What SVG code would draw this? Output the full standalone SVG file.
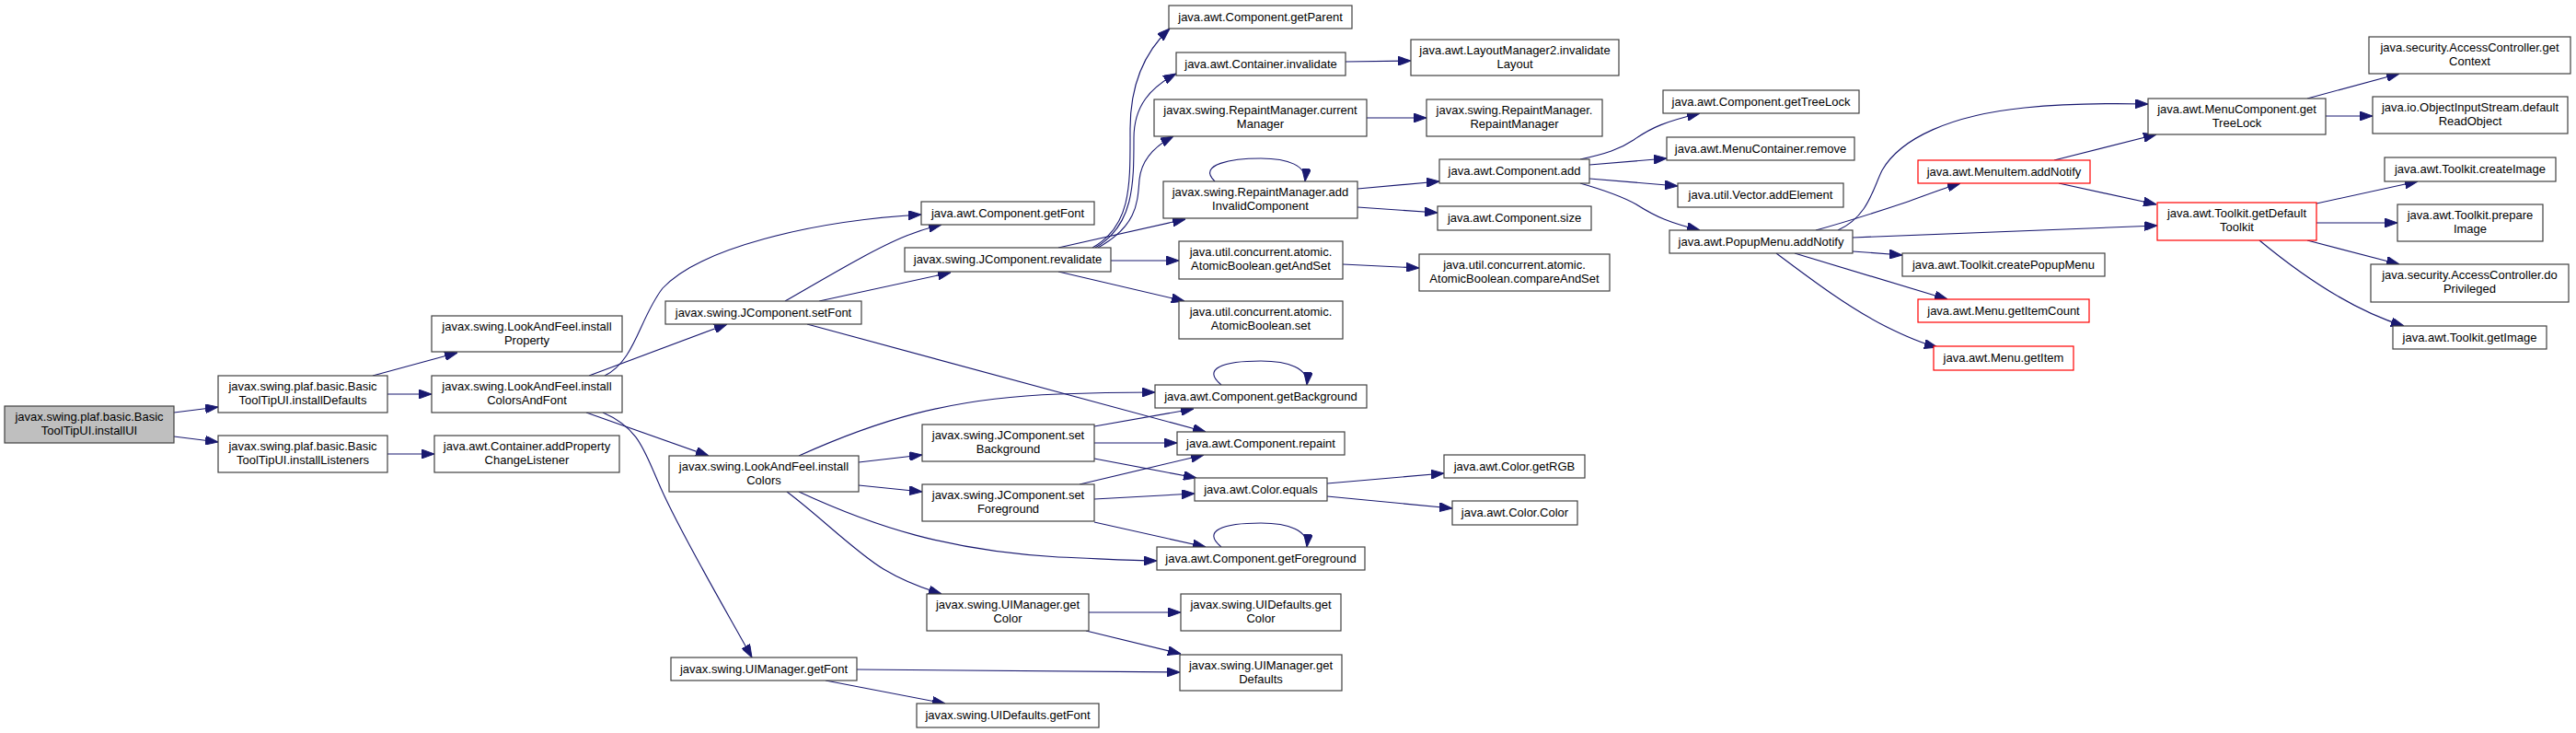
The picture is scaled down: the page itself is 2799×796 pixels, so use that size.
<svg xmlns="http://www.w3.org/2000/svg" width="2799" height="796" viewBox="0 0 2799 796">
<defs>
<marker id="a" viewBox="0 0 14 10" refX="14" refY="5" markerWidth="14" markerHeight="10" markerUnits="userSpaceOnUse" orient="auto">
<path d="M0,0 L14,5 L0,10 z" fill="#191970" stroke="#191970" stroke-width="1"/>
</marker>
<style>
.node rect{fill:#ffffff;stroke:#404040;stroke-width:1.2}
.node.red rect{stroke:#ff0000}
.node.root rect{fill:#bfbfbf}
.node text{font-family:"Liberation Sans",Arial,sans-serif;font-size:13px;text-anchor:middle;fill:#000000}
#edges path{fill:none;stroke:#191970;stroke-width:1.1;marker-end:url(#a)}
</style>
</defs>
<rect x="0" y="0" width="2799" height="796" fill="#ffffff"/>
<g id="edges">
<path d="M189,448 L237,442"/>
<path d="M189,474 L237,480"/>
<path d="M405,408 L497,383"/>
<path d="M421,428 L469,428"/>
<path d="M421,493 L472,493"/>
<path d="M640,408 L790,352"/>
<path d="M657,408 C690,392 695,345 720,313 C760,270 880,240 1001,233"/>
<path d="M637,448 L770,495"/>
<path d="M655,448 C695,465 700,490 718,530 C740,580 790,665 817,714"/>
<path d="M853,327 C900,300 950,270 985,256 C1000,250 1010,247 1023,244"/>
<path d="M890,327 L1033,296"/>
<path d="M877,352 L1310,469"/>
<path d="M1187,269 C1230,245 1228,200 1228,140 C1228,90 1245,55 1271,31"/>
<path d="M1190,269 C1232,245 1232,200 1232,150 C1232,115 1250,95 1278,80"/>
<path d="M1193,269 C1236,245 1236,220 1238,195 C1240,175 1252,160 1275,148"/>
<path d="M1150,269 L1288,238"/>
<path d="M1207,283 L1281,283"/>
<path d="M1150,295 L1287,327"/>
<path d="M1459,287 L1542,291"/>
<path d="M1462,67 L1533,66"/>
<path d="M1485,128 L1550,128"/>
<path d="M1320,197 C1300,178 1340,172 1370,172 C1400,172 1420,180 1418,197"/>
<path d="M1475,205 L1564,197"/>
<path d="M1475,225 L1562,231"/>
<path d="M1717,173 C1745,167 1760,162 1775,152 C1795,138 1810,132 1847,123"/>
<path d="M1727,179 L1811,172"/>
<path d="M1727,194 L1823,202"/>
<path d="M1717,199 C1745,207 1762,213 1778,222 C1800,236 1815,242 1847,250"/>
<path d="M1997,250 C2030,235 2035,205 2045,185 C2065,150 2120,125 2200,117 C2250,112 2290,112 2334,113"/>
<path d="M1973,250 C2010,240 2040,230 2070,220 C2090,213 2110,205 2130,199"/>
<path d="M2013,258 L2344,245"/>
<path d="M2013,273 L2067,277"/>
<path d="M1950,275 L2116,325"/>
<path d="M1930,275 C1970,305 2010,335 2050,355 C2070,365 2085,372 2105,377"/>
<path d="M2232,174 L2343,146"/>
<path d="M2237,199 L2343,222"/>
<path d="M2507,107 L2607,80"/>
<path d="M2527,126 L2578,126"/>
<path d="M2517,221 L2627,197"/>
<path d="M2517,242 L2605,242"/>
<path d="M2507,261 L2607,287"/>
<path d="M2455,261 C2490,290 2550,335 2612,354"/>
<path d="M933,502 L1002,494"/>
<path d="M933,527 L1002,534"/>
<path d="M868,495 C950,458 1030,432 1150,428 C1200,426 1230,426 1255,426"/>
<path d="M868,534 C950,572 1030,598 1150,605 C1200,607 1230,609 1257,609"/>
<path d="M855,534 C890,560 930,600 960,618 C980,630 1000,638 1023,645"/>
<path d="M1189,463 L1297,444"/>
<path d="M1189,481 L1279,481"/>
<path d="M1189,498 L1300,519"/>
<path d="M1173,526 L1308,494"/>
<path d="M1189,542 L1298,536"/>
<path d="M1189,567 L1310,594"/>
<path d="M1327,418 C1305,400 1330,392 1370,392 C1400,392 1422,400 1420,418"/>
<path d="M1327,594 C1305,576 1330,568 1370,568 C1400,568 1422,576 1420,594"/>
<path d="M1442,525 L1569,514"/>
<path d="M1442,539 L1578,552"/>
<path d="M1183,665 L1283,665"/>
<path d="M1180,685 L1283,710"/>
<path d="M931,727 L1282,730"/>
<path d="M897,739 L1027,764"/>
</g>
<g id="n1" class="node root"><rect x="5" y="441" width="184" height="40"/><text x="97" y="457">javax.swing.plaf.basic.Basic</text><text x="97" y="472">ToolTipUI.installUI</text></g>
<g id="n2" class="node"><rect x="237" y="408" width="184" height="40"/><text x="329" y="424">javax.swing.plaf.basic.Basic</text><text x="329" y="439">ToolTipUI.installDefaults</text></g>
<g id="n3" class="node"><rect x="237" y="473" width="184" height="40"/><text x="329" y="489">javax.swing.plaf.basic.Basic</text><text x="329" y="504">ToolTipUI.installListeners</text></g>
<g id="n4" class="node"><rect x="469" y="343" width="207" height="39"/><text x="572.5" y="359">javax.swing.LookAndFeel.install</text><text x="572.5" y="374">Property</text></g>
<g id="n5" class="node"><rect x="469" y="408" width="207" height="40"/><text x="572.5" y="424">javax.swing.LookAndFeel.install</text><text x="572.5" y="439">ColorsAndFont</text></g>
<g id="n6" class="node"><rect x="472" y="473" width="201" height="40"/><text x="572.5" y="489">java.awt.Container.addProperty</text><text x="572.5" y="504">ChangeListener</text></g>
<g id="n7" class="node"><rect x="723" y="327" width="213" height="25"/><text x="829.5" y="343.5">javax.swing.JComponent.setFont</text></g>
<g id="n8" class="node"><rect x="727" y="495" width="206" height="39"/><text x="830" y="511">javax.swing.LookAndFeel.install</text><text x="830" y="526">Colors</text></g>
<g id="n9" class="node"><rect x="729" y="714" width="202" height="25"/><text x="830" y="730.5">javax.swing.UIManager.getFont</text></g>
<g id="n10" class="node"><rect x="1001" y="219" width="188" height="25"/><text x="1095" y="235.5">java.awt.Component.getFont</text></g>
<g id="n11" class="node"><rect x="983" y="269" width="224" height="26"/><text x="1095" y="286">javax.swing.JComponent.revalidate</text></g>
<g id="n12" class="node"><rect x="1002" y="461" width="187" height="40"/><text x="1095.5" y="477">javax.swing.JComponent.set</text><text x="1095.5" y="492">Background</text></g>
<g id="n13" class="node"><rect x="1002" y="526" width="187" height="40"/><text x="1095.5" y="542">javax.swing.JComponent.set</text><text x="1095.5" y="557">Foreground</text></g>
<g id="n14" class="node"><rect x="1007" y="645" width="176" height="40"/><text x="1095" y="661">javax.swing.UIManager.get</text><text x="1095" y="676">Color</text></g>
<g id="n15" class="node"><rect x="996" y="764" width="198" height="26"/><text x="1095" y="781">javax.swing.UIDefaults.getFont</text></g>
<g id="n16" class="node"><rect x="1270" y="6" width="199" height="25"/><text x="1369.5" y="22.5">java.awt.Component.getParent</text></g>
<g id="n17" class="node"><rect x="1278" y="57" width="184" height="25"/><text x="1370" y="73.5">java.awt.Container.invalidate</text></g>
<g id="n18" class="node"><rect x="1254" y="108" width="231" height="40"/><text x="1369.5" y="124">javax.swing.RepaintManager.current</text><text x="1369.5" y="139">Manager</text></g>
<g id="n19" class="node"><rect x="1264" y="197" width="211" height="40"/><text x="1369.5" y="213">javax.swing.RepaintManager.add</text><text x="1369.5" y="228">InvalidComponent</text></g>
<g id="n20" class="node"><rect x="1281" y="262" width="178" height="41"/><text x="1370" y="278">java.util.concurrent.atomic.</text><text x="1370" y="293">AtomicBoolean.getAndSet</text></g>
<g id="n21" class="node"><rect x="1281" y="327" width="178" height="41"/><text x="1370" y="343">java.util.concurrent.atomic.</text><text x="1370" y="358">AtomicBoolean.set</text></g>
<g id="n22" class="node"><rect x="1255" y="418" width="230" height="25"/><text x="1370" y="434.5">java.awt.Component.getBackground</text></g>
<g id="n23" class="node"><rect x="1279" y="469" width="182" height="25"/><text x="1370" y="485.5">java.awt.Component.repaint</text></g>
<g id="n24" class="node"><rect x="1298" y="519" width="144" height="25"/><text x="1370" y="535.5">java.awt.Color.equals</text></g>
<g id="n25" class="node"><rect x="1257" y="594" width="226" height="25"/><text x="1370" y="610.5">java.awt.Component.getForeground</text></g>
<g id="n26" class="node"><rect x="1283" y="645" width="174" height="40"/><text x="1370" y="661">javax.swing.UIDefaults.get</text><text x="1370" y="676">Color</text></g>
<g id="n27" class="node"><rect x="1282" y="711" width="176" height="39"/><text x="1370" y="727">javax.swing.UIManager.get</text><text x="1370" y="742">Defaults</text></g>
<g id="n28" class="node"><rect x="1533" y="43" width="226" height="39"/><text x="1646" y="59">java.awt.LayoutManager2.invalidate</text><text x="1646" y="74">Layout</text></g>
<g id="n29" class="node"><rect x="1550" y="108" width="191" height="40"/><text x="1645.5" y="124">javax.swing.RepaintManager.</text><text x="1645.5" y="139">RepaintManager</text></g>
<g id="n30" class="node"><rect x="1564" y="173" width="163" height="26"/><text x="1645.5" y="190">java.awt.Component.add</text></g>
<g id="n31" class="node"><rect x="1562" y="224" width="167" height="26"/><text x="1645.5" y="241">java.awt.Component.size</text></g>
<g id="n32" class="node"><rect x="1542" y="276" width="207" height="40"/><text x="1645.5" y="292">java.util.concurrent.atomic.</text><text x="1645.5" y="307">AtomicBoolean.compareAndSet</text></g>
<g id="n33" class="node"><rect x="1569" y="494" width="153" height="25"/><text x="1645.5" y="510.5">java.awt.Color.getRGB</text></g>
<g id="n34" class="node"><rect x="1578" y="544" width="136" height="26"/><text x="1646" y="561">java.awt.Color.Color</text></g>
<g id="n35" class="node"><rect x="1807" y="98" width="213" height="25"/><text x="1913.5" y="114.5">java.awt.Component.getTreeLock</text></g>
<g id="n36" class="node"><rect x="1811" y="149" width="204" height="25"/><text x="1913" y="165.5">java.awt.MenuContainer.remove</text></g>
<g id="n37" class="node"><rect x="1823" y="199" width="180" height="26"/><text x="1913" y="216">java.util.Vector.addElement</text></g>
<g id="n38" class="node"><rect x="1814" y="250" width="199" height="25"/><text x="1913.5" y="266.5">java.awt.PopupMenu.addNotify</text></g>
<g id="n39" class="node red"><rect x="2084" y="174" width="187" height="25"/><text x="2177.5" y="190.5">java.awt.MenuItem.addNotify</text></g>
<g id="n40" class="node"><rect x="2067" y="275" width="220" height="25"/><text x="2177" y="291.5">java.awt.Toolkit.createPopupMenu</text></g>
<g id="n41" class="node red"><rect x="2084" y="325" width="186" height="25"/><text x="2177" y="341.5">java.awt.Menu.getItemCount</text></g>
<g id="n42" class="node red"><rect x="2101" y="376" width="152" height="26"/><text x="2177" y="393">java.awt.Menu.getItem</text></g>
<g id="n43" class="node"><rect x="2334" y="107" width="193" height="39"/><text x="2430.5" y="123">java.awt.MenuComponent.get</text><text x="2430.5" y="138">TreeLock</text></g>
<g id="n44" class="node red"><rect x="2344" y="220" width="173" height="41"/><text x="2430.5" y="236">java.awt.Toolkit.getDefault</text><text x="2430.5" y="251">Toolkit</text></g>
<g id="n45" class="node"><rect x="2574" y="40" width="219" height="40"/><text x="2683.5" y="56">java.security.AccessController.get</text><text x="2683.5" y="71">Context</text></g>
<g id="n46" class="node"><rect x="2578" y="105" width="212" height="40"/><text x="2684" y="121">java.io.ObjectInputStream.default</text><text x="2684" y="136">ReadObject</text></g>
<g id="n47" class="node"><rect x="2591" y="171" width="186" height="26"/><text x="2684" y="188">java.awt.Toolkit.createImage</text></g>
<g id="n48" class="node"><rect x="2605" y="222" width="158" height="40"/><text x="2684" y="238">java.awt.Toolkit.prepare</text><text x="2684" y="253">Image</text></g>
<g id="n49" class="node"><rect x="2576" y="287" width="215" height="41"/><text x="2683.5" y="303">java.security.AccessController.do</text><text x="2683.5" y="318">Privileged</text></g>
<g id="n50" class="node"><rect x="2600" y="354" width="167" height="25"/><text x="2683.5" y="370.5">java.awt.Toolkit.getImage</text></g>
</svg>
